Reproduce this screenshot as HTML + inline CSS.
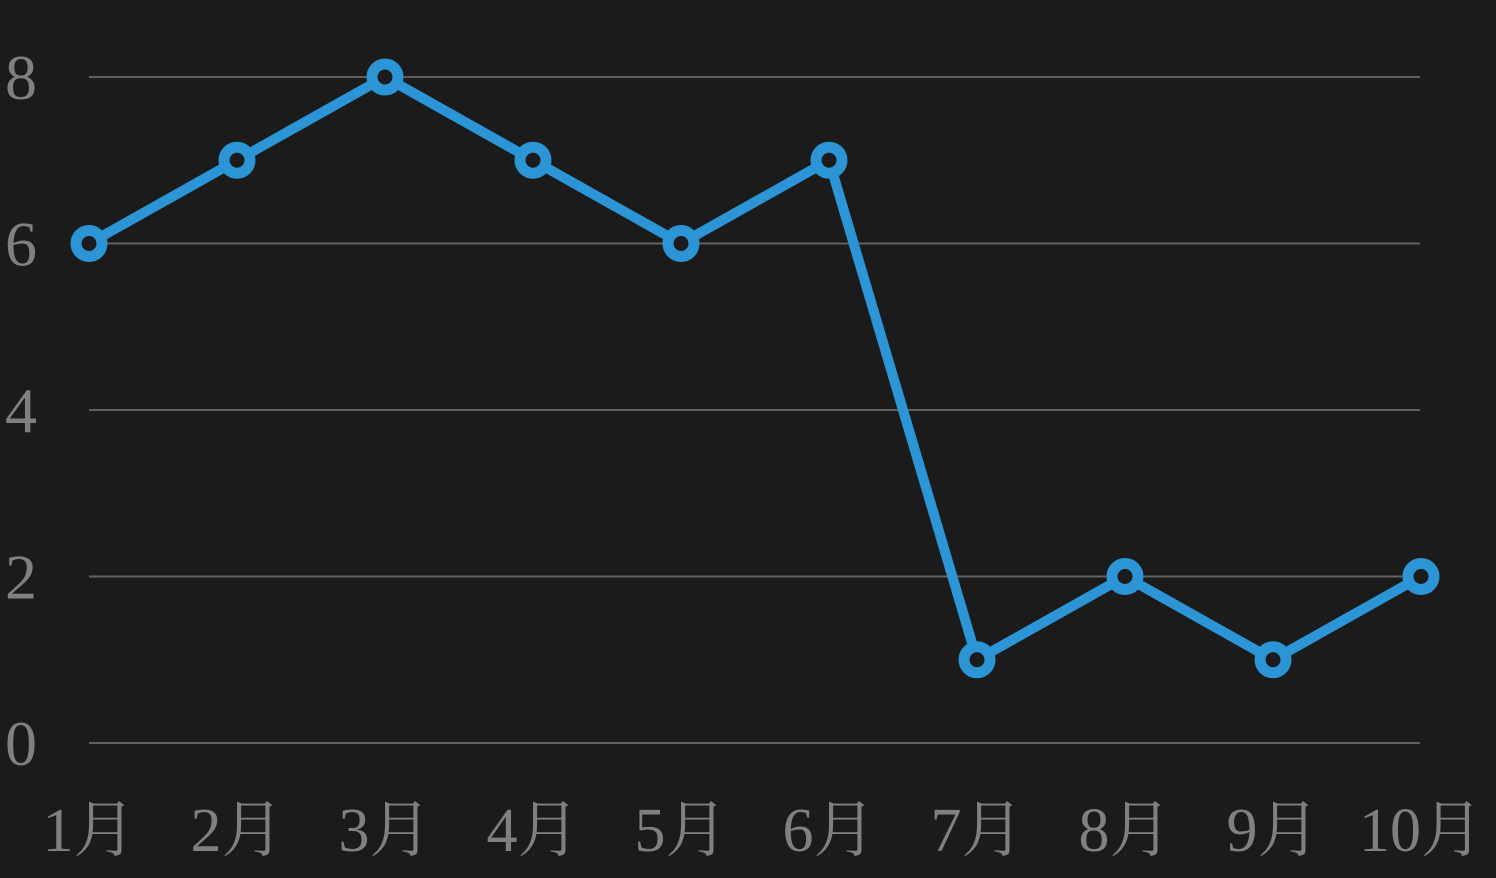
<!DOCTYPE html>
<html><head><meta charset="utf-8"><style>
html,body{margin:0;padding:0;background:#1b1b1b;}
svg{display:block;}
</style></head><body>
<svg id="chart" width="1496" height="878" viewBox="0 0 1496 878">
<rect width="1496" height="878" fill="#1b1b1b"/>
<g id="grid"></g><g id="yl"></g><g id="xl"></g><g id="series"></g>
</svg>
<script>
const categories=["1月","2月","3月","4月","5月","6月","7月","8月","9月","10月"];
const values=[6,7,8,7,6,7,1,2,1,2];
const yTicks=[0,2,4,6,8];
const ns="http://www.w3.org/2000/svg";
const FONT="'Liberation Serif','Noto Serif CJK SC',serif";
const x0=89,x1=1421,yBase=743,yTop=77,yMax=8;
const xs=i=>x0+i*(x1-x0)/(categories.length-1);
const ys=v=>yBase-(v/yMax)*(yBase-yTop);
function mk(tag,attrs,parent){const e=document.createElementNS(ns,tag);for(const k in attrs)e.setAttribute(k,attrs[k]);parent.appendChild(e);return e;}
const grid=document.getElementById('grid'),yl=document.getElementById('yl'),xl=document.getElementById('xl'),ser=document.getElementById('series');
yTicks.forEach(t=>{
 const l=mk('line',{x1:x0,x2:1420,y1:ys(t),y2:ys(t),stroke:'#606060','stroke-width':2},grid);
 
 
 const tx=mk('text',{x:21,y:ys(t)+22,'text-anchor':'middle','font-size':64,'font-family':FONT,fill:'#808080'},yl);
 tx.style.fontFamily=FONT;
 tx.textContent=t;
 
 
});
categories.forEach((c,i)=>{
 const tx=mk('text',{x:xs(i),y:851,'text-anchor':'middle','font-size':62,'font-family':FONT,fill:'#808080'},xl);
 tx.style.fontFamily=FONT;
 tx.textContent=c;
 
 
});
const pl=mk('polyline',{points:values.map((v,i)=>xs(i)+','+ys(v)).join(' '),fill:'none',stroke:'#2b95d6','stroke-width':10,'stroke-linejoin':'round'},ser);


values.forEach((v,i)=>{
 const c=mk('circle',{cx:xs(i),cy:ys(v),r:13,fill:'#1b1b1b',stroke:'#2b95d6','stroke-width':11},ser);
 
 
});
</script>
</body></html>
